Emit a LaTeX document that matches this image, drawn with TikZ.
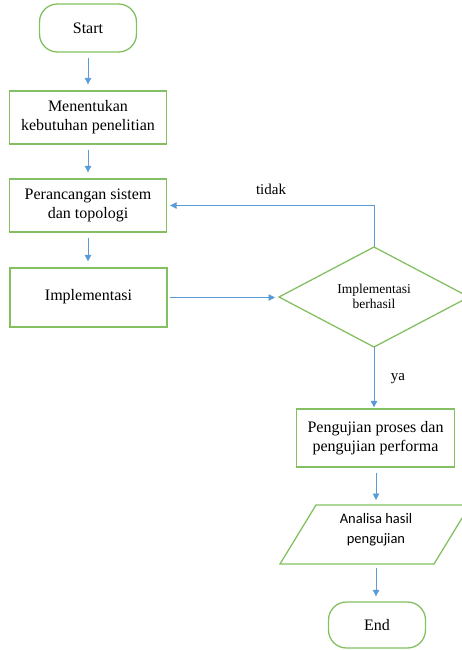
\documentclass[tikz,border=0pt]{standalone}
\usepackage{fontspec}
\setmainfont{Liberation Serif}
\newfontfamily\calfont{Carlito}
\usetikzlibrary{arrows.meta}
\definecolor{boxgreen}{RGB}{132,192,98}
\definecolor{arrowblue}{RGB}{91,155,213}
\tikzset{
  procbox/.style={draw=boxgreen, line width=1.3pt, rectangle, align=center,
    inner sep=0pt, font=\fontsize{16}{19}\selectfont},
  termbox/.style={procbox, rounded corners=18pt},
  shapeline/.style={draw=boxgreen, line width=1.3pt, line join=miter},
  flow/.style={draw=arrowblue, line width=0.9pt,
    -{Triangle[width=6.5pt,length=6.5pt]}, shorten <=5pt, shorten >=6pt},
  tag/.style={inner sep=0pt, font=\fontsize{15}{18}\selectfont}
}
\begin{document}
\begin{tikzpicture}[x=1pt, y=-1pt]
\useasboundingbox (0,0) rectangle (462,650);
\clip (0,0) rectangle (462,650);

% left column
\node[termbox, minimum width=97pt, minimum height=48pt] (start) at (88,28) {Start};
\node[procbox, minimum width=157pt, minimum height=53pt] (need) at (88,117.5)
  {Menentukan\\kebutuhan penelitian};
\node[procbox, minimum width=157pt, minimum height=53pt] (design) at (88,205.5)
  {Perancangan sistem\\dan topologi};
\node[procbox, minimum width=157pt, minimum height=59pt] (impl) at (88.5,297.5)
  {\raisebox{6pt}{Implementasi}};

% decision
\coordinate (dtop) at (374,247);
\coordinate (dleft) at (279,297);
\coordinate (dright) at (469,297);
\coordinate (dbot) at (374,347);
\draw[shapeline] (dleft) -- (dtop) -- (dright) -- (dbot) -- cycle;
\node[inner sep=0pt, align=center, font=\fontsize{13.5}{15}\selectfont] (dec) at (374,296)
  {Implementasi\\berhasil};

% right column
\node[procbox, minimum width=158pt, minimum height=58pt] (test) at (375.5,438)
  {Pengujian proses dan\\pengujian performa};

\coordinate (ptl) at (316,505);
\coordinate (ptr) at (470,505);
\coordinate (pbr) at (434,564);
\coordinate (pbl) at (280,564);
\draw[shapeline] (ptl) -- (ptr) -- (pbr) -- (pbl) -- cycle;
\node[inner sep=0pt, align=center, font=\calfont\fontsize{14.5}{20}\selectfont] (anal) at (376,530)
  {Analisa hasil\\pengujian};
\coordinate (ptop) at (376,505);
\coordinate (pbot) at (376,564);

\node[termbox, minimum width=97pt, minimum height=46pt] (finish) at (377,625) {End};

% connectors
\draw[flow] (start.south) -- (need.north -| start.south);
\draw[flow] (need.south) -- (design.north -| need.south);
\draw[flow] (design.south) -- (impl.north -| design.south);
\draw[flow, shorten <=2pt, shorten >=4pt] (impl.east) -- (impl.east -| dleft);
\draw[flow, shorten <=0pt, shorten >=3pt] (dtop) |- (design.east);
\draw[flow, shorten <=0pt, shorten >=1pt] (dbot) -- (dbot |- test.north);
\draw[flow, shorten >=5pt] (test.south -| ptop) -- (ptop);
\draw[flow, shorten <=4pt, shorten >=5pt] (pbot) -- (pbot |- finish.north);

% branch labels
\node[tag] (no) at (271,189) {tidak};
\node[tag] (yes) at (398,379) {ya};
\end{tikzpicture}
\end{document}
